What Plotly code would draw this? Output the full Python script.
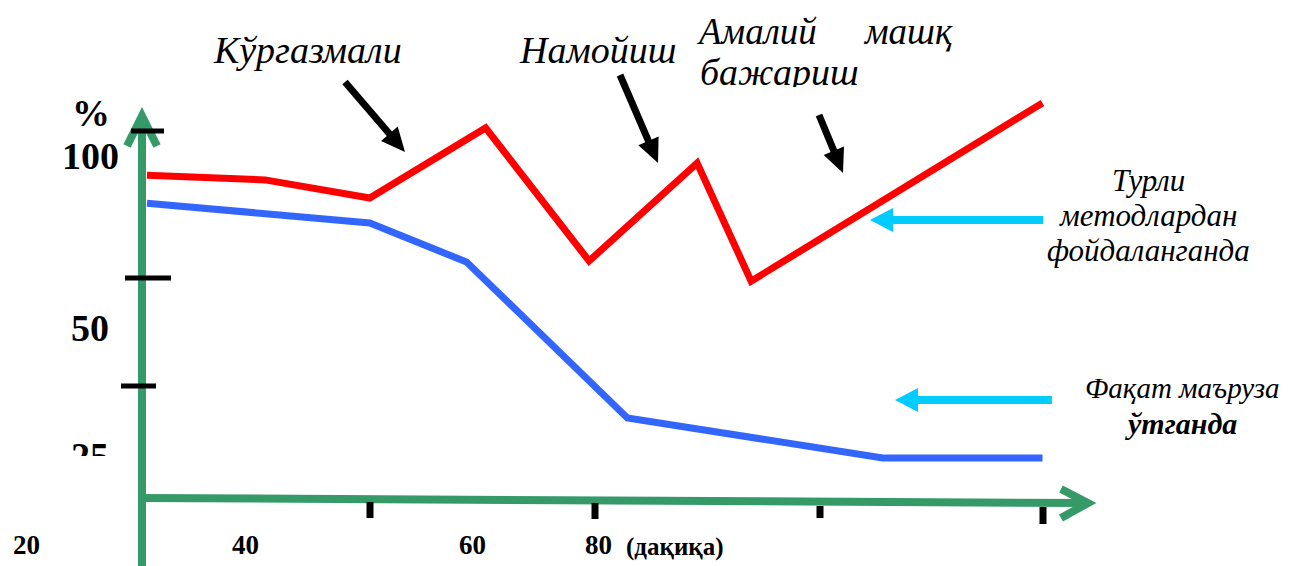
import plotly.graph_objects as go

# ---------------- data ----------------
minutes_red = [20, 30.5, 39.8, 50.1, 59.3, 68.9, 73.7, 99.6]
pct_red = [94.7, 93.3, 88.0, 108.5, 69.6, 98.2, 63.7, 115.8]
minutes_blue = [20, 39.8, 48.4, 62.7, 85.4, 99.6]
pct_blue = [86.5, 80.7, 69.3, 23.7, 12.0, 12.0]

y_tick_labels = ["100", "50", "25"]
x_tick_labels = ["20", "40", "60", "80"]
x_unit = "(дақиқа)"
top_labels = ["Кўргазмали", "Намойиш", "Амалий", "машқ", "бажариш"]
red_label = ["Турли", "методлардан", "фойдаланганда"]
blue_label = ["Фақат маъруза", "ўтганда"]

# ---------------- geometry helpers ----------------
OFF = 8                      # page body margin
W, H = 1290 - OFF, 566 - OFF
X0_PX, PX_PER_MIN = 147, 11.25      # 20 min at the vertical axis (screen px)
Y100_PX, PX_PER_PCT = 157, 3.42     # 100 % at y=157 screen px
x_range = [20 - (X0_PX - OFF) / PX_PER_MIN, 20 + (OFF + W - X0_PX) / PX_PER_MIN]
y_range = [100 - (OFF + H - Y100_PX) / PX_PER_PCT, 100 + (Y100_PX - OFF) / PX_PER_PCT]


def P(x, y):
    return (x - OFF) / W, 1 - (y - OFF) / H


def line_shape(x0, y0, x1, y1, color, width):
    a, b = P(x0, y0)
    c, d = P(x1, y1)
    return dict(type="line", xref="paper", yref="paper", x0=a, y0=b, x1=c, y1=d,
                line=dict(color=color, width=width), layer="above")


def path_shape(points, color, width=0, fill=None, closed=False):
    parts = []
    for i, (x, y) in enumerate(points):
        a, b = P(x, y)
        parts.append(("M" if i == 0 else "L") + f"{a:.5f},{b:.5f}")
    d = " ".join(parts) + (" Z" if closed else "")
    s = dict(type="path", xref="paper", yref="paper", path=d, layer="above",
             line=dict(color=color, width=width))
    if fill:
        s["fillcolor"] = fill
    return s


def arrow(tail, tip, color, shaft_w, head_len, head_half):
    tx, ty = tail
    hx, hy = tip
    dx, dy = hx - tx, hy - ty
    L = (dx * dx + dy * dy) ** 0.5
    ux, uy = dx / L, dy / L
    bx, by = hx - ux * head_len, hy - uy * head_len
    nx, ny = -uy, ux
    shapes = [line_shape(tx, ty, bx + ux * 2, by + uy * 2, color, shaft_w)]
    shapes.append(path_shape([(hx, hy), (bx + nx * head_half, by + ny * head_half),
                              (bx - nx * head_half, by - ny * head_half)],
                             color, 0, fill=color, closed=True))
    return shapes


GREEN = "#359a68"
shapes = []
# vertical green axis with chevron head
shapes.append(line_shape(142, 580, 142, 118, GREEN, 8))
shapes.append(path_shape([(127, 146), (142, 116), (157, 146)], GREEN, 8))
# horizontal green axis with chevron head
shapes.append(line_shape(138, 498, 1086, 503, GREEN, 8))
shapes.append(path_shape([(1061, 489), (1088, 503), (1061, 518)], GREEN, 8))

# black tick marks on the vertical axis
for y, xa, xb in [(131, 131, 164), (278, 125, 171), (386, 121, 156)]:
    shapes.append(line_shape(xa, y, xb, y, "black", 5))
# black tick marks on the horizontal axis
for x, ya, yb in [(370, 502, 518), (595, 503, 519), (820, 506, 518), (1043, 507, 524)]:
    shapes.append(line_shape(x, ya, x, yb, "black", 7))

# black pointer arrows
shapes += arrow((345, 82), (405, 152), "black", 7, 24, 11)
shapes += arrow((620, 75), (658, 163), "black", 7, 24, 11)
shapes += arrow((819, 115), (843, 173), "black", 7, 24, 11)
# cyan legend arrows
CYAN = "#00ccff"
shapes += arrow((1043, 220), (870, 220), CYAN, 8, 23, 12)
shapes += arrow((1052, 400), (895, 400), CYAN, 8, 23, 12)

# ---------------- traces ----------------
fig = go.Figure()
fig.add_trace(go.Scatter(x=minutes_red, y=pct_red, mode="lines",
                         line=dict(color="#ff0000", width=7), hoverinfo="skip"))
fig.add_trace(go.Scatter(x=minutes_blue, y=pct_blue, mode="lines",
                         line=dict(color="#3366ff", width=7), hoverinfo="skip"))

SERIF = "Liberation Serif"
ann = []


def text(x, y, s, size, bold=False, italic=False, xanchor="center"):
    a, b = P(x, y)
    t = s
    if bold:
        t = f"<b>{t}</b>"
    if italic:
        t = f"<i>{t}</i>"
    ann.append(dict(x=a, y=b, xref="paper", yref="paper", text=t, showarrow=False,
                    xanchor=xanchor, yanchor="middle",
                    font=dict(family=SERIF, size=size, color="black")))


def cover(x0, y0, x1, y1):
    a, b = P((x0 + x1) / 2, (y0 + y1) / 2)
    ann.append(dict(x=a, y=b, xref="paper", yref="paper", text=" ", showarrow=False,
                    xanchor="center", yanchor="middle", width=x1 - x0, height=y1 - y0,
                    bgcolor="white", borderpad=0, borderwidth=0,
                    font=dict(size=2)))


# y-axis labels
text(91, 113, "%", 38, bold=True)
for lab, y in zip(y_tick_labels, [156, 328, 456]):
    text(90, y, lab, 38, bold=True)
# x-axis labels
for lab, x in zip(x_tick_labels, [26, 245, 472, 598]):
    text(x, 545, lab, 27, bold=True)
text(675, 547, x_unit, 25, bold=True)

# top method labels
text(307, 50, top_labels[0], 38, italic=True)
text(597, 50, top_labels[1], 38, italic=True)
text(756, 31, top_labels[2], 37, italic=True)
text(908, 31, top_labels[3], 37, italic=True)
text(779, 72, top_labels[4], 38, italic=True)

# right side legend labels
for s, y in zip(red_label, [180, 216, 250]):
    text(1148, y, s, 31, italic=True)
text(1182, 388, blue_label[0], 29, italic=True)
text(1181, 423, blue_label[1], 30, bold=True, italic=True)

# clipped text edges as in the reference
cover(55, 456, 125, 485)
cover(690, 87, 875, 104)

fig.update_layout(
    width=W, height=H, margin=dict(l=0, r=0, t=0, b=0),
    paper_bgcolor="white", plot_bgcolor="white", showlegend=False,
    xaxis=dict(range=x_range, visible=False, fixedrange=True),
    yaxis=dict(range=y_range, visible=False, fixedrange=True),
    shapes=shapes, annotations=ann,
)

fig.write_html("out.html")
